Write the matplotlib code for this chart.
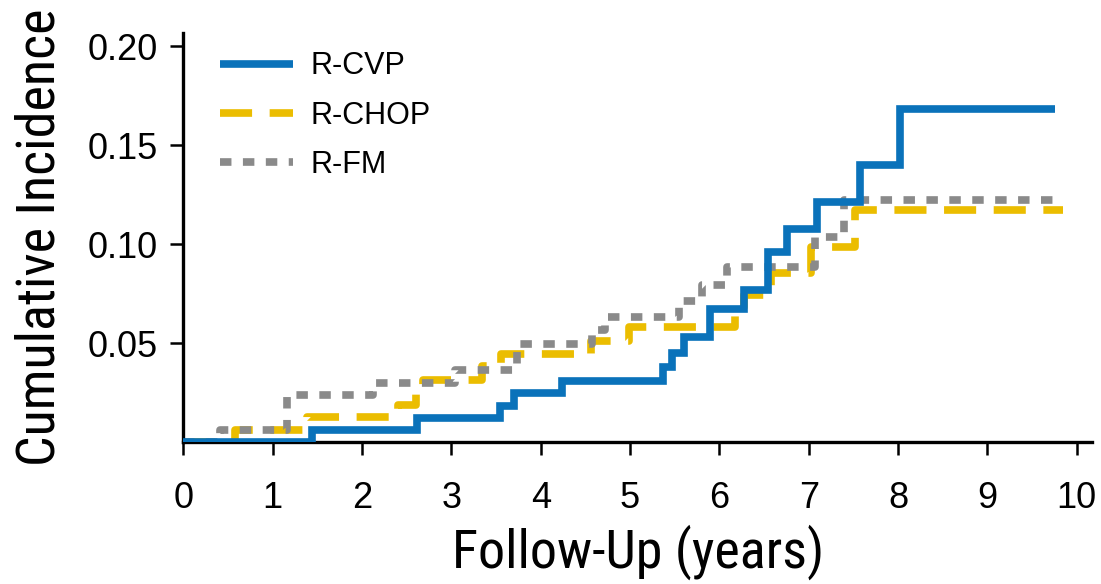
import matplotlib
matplotlib.use("Agg")
import matplotlib.pyplot as plt
from matplotlib import font_manager
from matplotlib.font_manager import FontProperties

# Cumulative incidence step curves (event times in years, incidence after each step)
cvp_times = [0.0, 1.44, 2.61, 3.55, 3.70, 4.24, 5.37, 5.47, 5.60, 5.89, 6.27, 6.54, 6.76, 7.09, 7.57, 8.02, 9.76]
cvp_vals = [0.0, 0.0063, 0.0123, 0.0185, 0.0248, 0.0311, 0.0382, 0.0450, 0.0530, 0.0675, 0.0768, 0.0962, 0.1078, 0.1212, 0.1402, 0.1683, 0.1683]

chop_times = [0.0, 0.58, 1.38, 2.40, 2.60, 2.68, 3.34, 3.56, 4.56, 4.99, 6.17, 6.27, 6.58, 7.03, 7.52, 9.85]
chop_vals = [0.0, 0.0063, 0.0127, 0.0190, 0.0255, 0.0316, 0.0385, 0.0445, 0.0511, 0.0582, 0.0682, 0.0745, 0.0853, 0.0984, 0.1174, 0.1174]

fm_times = [0.0, 0.41, 1.16, 2.12, 3.04, 3.73, 4.57, 4.72, 5.55, 5.80, 6.08, 7.07, 7.40, 9.80]
fm_vals = [0.0, 0.0063, 0.0240, 0.0302, 0.0365, 0.0497, 0.0570, 0.0635, 0.0716, 0.0795, 0.0886, 0.1036, 0.1225, 0.1225]

series_labels = ["R-CVP", "R-CHOP", "R-FM"]
x_ticks = list(range(0, 11))
y_ticks = [0.05, 0.10, 0.15, 0.20]
y_tick_labels = ["0.05", "0.10", "0.15", "0.20"]


def condensed_font(size):
    """Pick an installed condensed/narrow sans face for the axis titles."""
    preferred = ["LiberationSansNarrow-Regular", "RobotoCondensed-Regular",
                 "OpenSans_Condensed-Regular", "OpenSansCondensed-Regular",
                 "DejaVuSansCondensed."]
    files = [f.fname for f in font_manager.fontManager.ttflist]
    for key in preferred:
        for fname in files:
            if key.lower() in fname.lower().replace(" ", ""):
                return FontProperties(fname=fname, size=size)
    for fname in files:
        low = fname.lower()
        if ("condensed" in low or "narrow" in low) and "bold" not in low \
                and "italic" not in low and "oblique" not in low and "light" not in low:
            return FontProperties(fname=fname, size=size)
    return FontProperties(family="Liberation Sans", size=size * 0.82)


plt.rcParams["font.family"] = ["Liberation Sans", "DejaVu Sans"]

fig = plt.figure(figsize=(11.01, 5.84), dpi=100)
ax = fig.add_axes([0.1665, 0.2423, 0.9918 - 0.1665, 0.9435 - 0.2423])

lw = 5.5
ax.step(cvp_times, cvp_vals, where="post", color="#0A72BA", lw=lw,
        label=series_labels[0], solid_capstyle="butt", solid_joinstyle="miter", zorder=3)
ax.step(chop_times, chop_vals, where="post", color="#EBBD00", lw=lw,
        dashes=(4.2, 2.3), label=series_labels[1], dash_capstyle="butt", zorder=2)
ax.step(fm_times, fm_vals, where="post", color="#8A8A8A", lw=lw,
        dashes=(1.5, 1.5), label=series_labels[2], dash_capstyle="butt", zorder=2)

ax.set_xlim(0, 10.17)
ax.set_ylim(0, 0.2066)

for side in ("top", "right"):
    ax.spines[side].set_visible(False)
for side in ("left", "bottom"):
    ax.spines[side].set_linewidth(2.4)
    ax.spines[side].set_color("black")

ax.set_xticks(x_ticks)
ax.set_xticklabels([str(t) for t in x_ticks])
ax.set_yticks(y_ticks)
ax.set_yticklabels(y_tick_labels)
ax.tick_params(axis="x", direction="out", length=9.5, width=1.8, pad=18, labelsize=26)
ax.tick_params(axis="y", direction="out", length=9.5, width=1.8, pad=9, labelsize=26)

title_font = condensed_font(39)
ax.set_xlabel("Follow-Up (years)", fontproperties=title_font, labelpad=6)
ax.set_ylabel("Cumulative Incidence", fontproperties=title_font, labelpad=16)

leg = ax.legend(loc="upper left", bbox_to_anchor=(0.027, 0.985), frameon=False,
                fontsize=22, handlelength=2.4, handletextpad=0.55, labelspacing=0.63,
                borderaxespad=0)

fig.savefig("out.png", dpi=100)
